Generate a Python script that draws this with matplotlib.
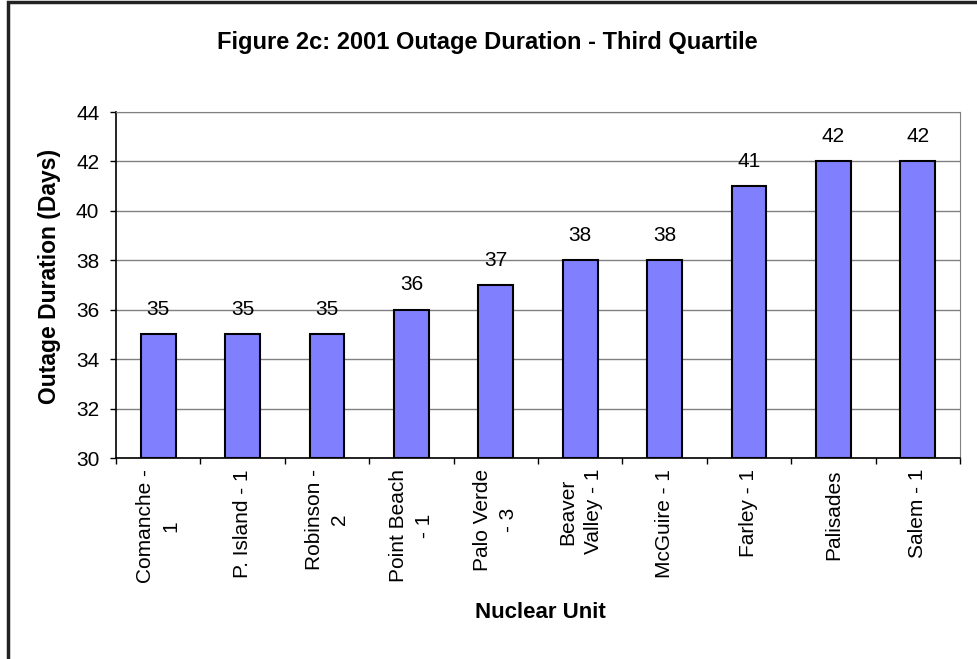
import numpy as np
import matplotlib.pyplot as plt
from matplotlib.patches import Rectangle

# ===================== DATA =====================
units = [
    "Comanche -\n1", "P. Island - 1", "Robinson -\n2", "Point Beach\n- 1",
    "Palo Verde\n- 3", "Beaver\nValley - 1", "McGuire - 1", "Farley - 1",
    "Palisades", "Salem - 1",
]
durations = [35, 35, 35, 36, 37, 38, 38, 41, 42, 42]
y_ticks = [30, 32, 34, 36, 38, 40, 42, 44]

plt.rcParams["font.family"] = ["Liberation Sans", "DejaVu Sans"]

fig = plt.figure(figsize=(9.77, 6.59), dpi=100)
ax = fig.add_axes([116 / 977, 1 - 458 / 659, (960 - 116) / 977, (458 - 112) / 659])

# outer chart border (cropped on right/bottom like the reference)
fig.patches.append(Rectangle((8 / 977, -0.05), 1.2, 1 - 2 / 659 + 0.05,
                             transform=fig.transFigure, fill=False,
                             edgecolor="#222222", linewidth=2.5))

x = np.arange(len(units))
ax.bar(x, np.array(durations) - 30, bottom=30, width=0.41,
       color="#8080FF", edgecolor="black", linewidth=1.5, zorder=3)

for xi, v in zip(x, durations):
    ax.annotate(f"{v}", (xi, v), xytext=(0, 11), textcoords="offset points",
                ha="center", va="bottom", fontsize=15)

ax.set_xlim(-0.5, len(units) - 0.5)
ax.set_ylim(30, 44)
ax.set_yticks(y_ticks)
ax.set_yticklabels([str(t) for t in y_ticks], fontsize=15)
ax.yaxis.grid(True, color="#808080", linewidth=1, zorder=0)

ax.set_xticks(x)
ax.set_xticklabels(units, rotation=90, fontsize=15, ha="center", va="top",
                   multialignment="center", linespacing=1.45)
ax.set_xticks(np.arange(-0.5, len(units)), minor=True)
ax.tick_params(axis="x", which="major", length=0, pad=8)
ax.tick_params(axis="x", which="minor", length=4.5, direction="out", width=1)
ax.tick_params(axis="y", length=4, direction="out", width=1, pad=8)

for side in ["top", "right"]:
    ax.spines[side].set_color("#808080")
for side in ["left", "bottom"]:
    ax.spines[side].set_color("black")
    ax.spines[side].set_linewidth(1.2)

ax.set_ylabel("Outage Duration (Days)", fontsize=16.5, fontweight="bold")
ax.yaxis.set_label_coords((50 - 116) / 844, 0.525)
ax.set_xlabel("Nuclear Unit", fontsize=16, fontweight="bold")
ax.xaxis.set_label_coords((540 - 116) / 844, (458 - 613) / 346)
ax.xaxis.label.set_va("center")
ax.yaxis.label.set_va("center")

fig.text(487 / 977, 1 - 42 / 659, "Figure 2c: 2001 Outage Duration - Third Quartile",
         ha="center", va="center", fontsize=17, fontweight="bold")

fig.savefig("out.png", dpi=100)
